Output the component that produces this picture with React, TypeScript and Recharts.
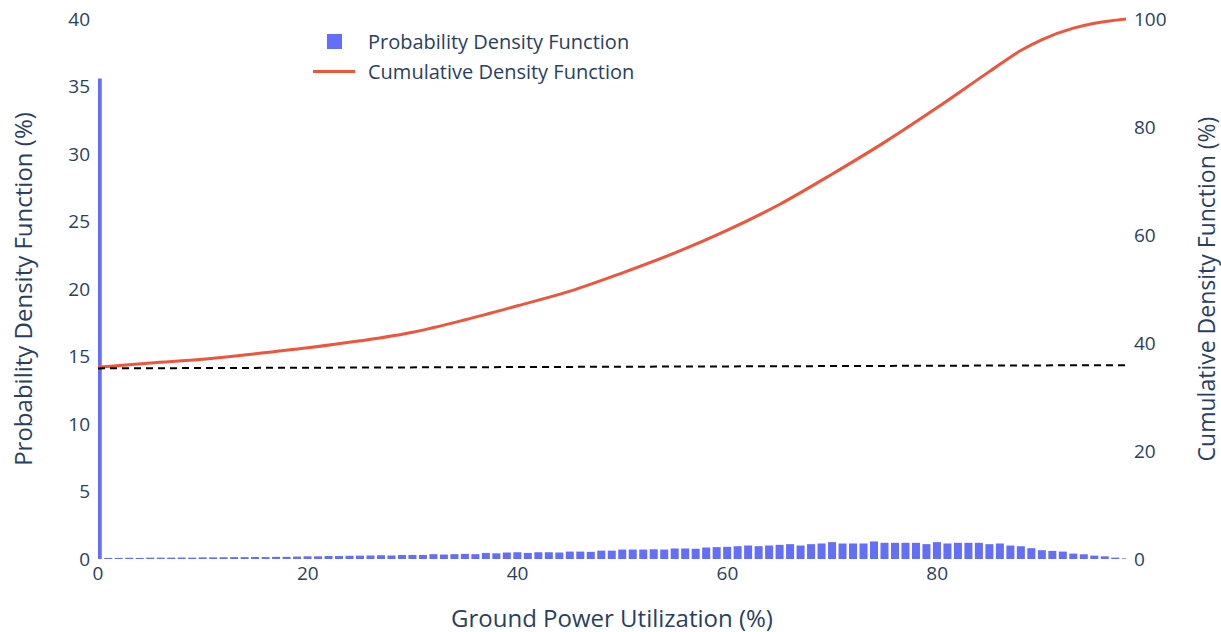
import React from 'react';
import { ComposedChart, Bar, Line, XAxis, YAxis, Legend } from 'recharts';

// Probability density (%) per utilization bin 0..98
const pdfValues = [
  35.6, 0.08, 0.08, 0.09, 0.08, 0.1, 0.1, 0.1, 0.11, 0.1,
  0.12, 0.12, 0.13, 0.14, 0.14, 0.15, 0.14, 0.16, 0.16, 0.18,
  0.2, 0.2, 0.22, 0.22, 0.24, 0.25, 0.26, 0.28, 0.26, 0.3,
  0.3, 0.3, 0.36, 0.33, 0.36, 0.38, 0.36, 0.45, 0.42, 0.48,
  0.5, 0.45, 0.5, 0.5, 0.48, 0.55, 0.55, 0.53, 0.62, 0.62,
  0.7, 0.7, 0.7, 0.72, 0.7, 0.78, 0.78, 0.76, 0.85, 0.88,
  0.9, 0.95, 1.0, 0.95, 1.0, 1.05, 1.1, 1.0, 1.1, 1.15,
  1.25, 1.15, 1.15, 1.15, 1.3, 1.2, 1.2, 1.2, 1.2, 1.1,
  1.25, 1.15, 1.2, 1.2, 1.2, 1.1, 1.15, 1.0, 0.95, 0.8,
  0.65, 0.6, 0.55, 0.4, 0.35, 0.25, 0.2, 0.1, 0.05,
];

// Cumulative density (%) read at selected utilization values
const cdfX = [0, 5, 10, 15, 20, 25, 30, 35, 40, 45, 50, 55, 60, 65, 70, 75, 80, 85, 88, 90, 93, 95, 98];
const cdfValues = [35.5, 36.3, 37.0, 38.0, 39.1, 40.4, 42.0, 44.3, 46.9, 49.6, 53.0, 56.7, 60.9, 65.7, 71.3, 77.2, 83.6, 90.3, 94.2, 96.2, 98.3, 99.2, 100];

// Dashed reference line (on the right axis)
const thresholdX = [0, 98];
const thresholdValues = [35.3, 35.9];

const xTicks = [0, 20, 40, 60, 80];
const leftTicks = [0, 5, 10, 15, 20, 25, 30, 35, 40];
const rightTicks = [0, 20, 40, 60, 80, 100];

const data = pdfValues.map((v, i) => {
  const row: any = { x: i, pdf: v };
  const ci = cdfX.indexOf(i);
  if (ci >= 0) row.cdf = cdfValues[ci];
  const ri = thresholdX.indexOf(i);
  if (ri >= 0) row.threshold = thresholdValues[ri];
  return row;
});

const FONT = '"Open Sans", verdana, arial, sans-serif';
const TEXT = '#2a3f5f';
const tickStyle = { fill: TEXT, fontSize: 19, fontFamily: FONT };
const TITLE_SIZE = 24;

const LeftTitle = (props: any) => {
  const vb = props.viewBox;
  const cx = vb.x + 22;
  const cy = vb.y + vb.height / 2;
  return (
    <text x={cx} y={cy} transform={`rotate(-90 ${cx} ${cy})`} textAnchor="middle" dominantBaseline="central"
      fill={TEXT} fontSize={TITLE_SIZE} fontFamily={FONT}>Probability Density Function (%)</text>
  );
};
const RightTitle = (props: any) => {
  const vb = props.viewBox;
  const cx = vb.x + 80;
  const cy = vb.y + vb.height / 2;
  return (
    <text x={cx} y={cy} transform={`rotate(-90 ${cx} ${cy})`} textAnchor="middle" dominantBaseline="central"
      fill={TEXT} fontSize={23} fontFamily={FONT}>Cumulative Density Function (%)</text>
  );
};
const BottomTitle = (props: any) => {
  const vb = props.viewBox;
  const cx = vb.x + vb.width / 2;
  const cy = vb.y + 58;
  return (
    <text x={cx} y={cy} textAnchor="middle" dominantBaseline="central"
      fill={TEXT} fontSize={TITLE_SIZE} fontFamily={FONT}>Ground Power Utilization (%)</text>
  );
};

const LegendContent = () => (
  <div style={{ fontFamily: FONT, fontSize: 20, color: TEXT }}>
    <div style={{ display: 'flex', alignItems: 'center', height: 30 }}>
      <div style={{ width: 42, display: 'flex', justifyContent: 'center' }}>
        <div style={{ width: 15, height: 15, background: '#636efa' }} />
      </div>
      <span style={{ marginLeft: 13 }}>Probability Density Function</span>
    </div>
    <div style={{ display: 'flex', alignItems: 'center', height: 30 }}>
      <div style={{ width: 42, height: 3, background: '#EF553B' }} />
      <span style={{ marginLeft: 13 }}>Cumulative Density Function</span>
    </div>
  </div>
);

export default function App() {
  return (
    <div style={{ position: 'fixed', left: 0, top: 0, width: 1221, height: 632, background: '#fff' }}>
      <ComposedChart width={1221} height={632} data={data} margin={{ top: 19, right: 0, bottom: 0, left: 0 }}>
        <XAxis dataKey="x" type="number" domain={[0, 98]} allowDataOverflow ticks={xTicks}
          axisLine={false} tickLine={false} tick={tickStyle} height={73} label={BottomTitle} />
        <YAxis yAxisId="left" orientation="left" domain={[0, 40]} ticks={leftTicks} width={98}
          axisLine={false} tickLine={false} tick={tickStyle} label={LeftTitle} />
        <YAxis yAxisId="right" orientation="right" domain={[0, 100]} ticks={rightTicks} width={95}
          axisLine={false} tickLine={false} tick={tickStyle} label={RightTitle} />
        <Legend layout="vertical" verticalAlign="middle" align="center" content={LegendContent}
          wrapperStyle={{ position: 'absolute', left: 313, top: 26, width: 380 }} />
        <Bar yAxisId="left" dataKey="pdf" fill="#636efa" barSize={8} isAnimationActive={false} />
        <Line yAxisId="right" dataKey="cdf" type="monotone" stroke="#EF553B" strokeWidth={3} dot={false}
          connectNulls isAnimationActive={false} />
        <Line yAxisId="right" dataKey="threshold" type="linear" stroke="#000" strokeWidth={2} strokeDasharray="7 5"
          dot={false} connectNulls isAnimationActive={false} />
      </ComposedChart>
    </div>
  );
}
